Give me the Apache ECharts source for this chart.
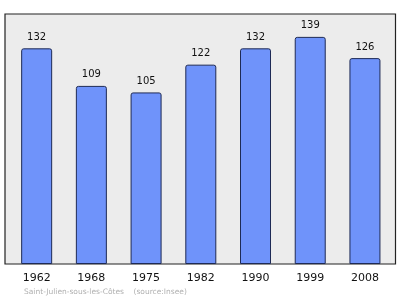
<!DOCTYPE html>
<html><head><meta charset="utf-8">
<script src="https://cdn.jsdelivr.net/npm/echarts@6/dist/echarts.min.js"></script>
<style>html,body{margin:0;padding:0;background:#fff}#c{width:400px;height:299px}</style>
</head><body><div id="c"></div>
<script>
const categories = ['1962','1968','1975','1982','1990','1999','2008'];
const population = [132,109,105,122,132,139,126];
const caption = 'Saint-Julien-sous-les-Côtes    (source:Insee)';

const chart = echarts.init(document.getElementById('c'), null, {renderer:'canvas'});
chart.setOption({
  animation:false,
  backgroundColor:'#ffffff',
  graphic:[
    {type:'rect', z:-10, shape:{x:5,y:14,width:390.5,height:250}, style:{fill:'#ececec', stroke:'#222', lineWidth:1.2}},
    {type:'text', left:24, top:288, style:{text:caption, fill:'#b0b0b0', font:'7.5px "DejaVu Sans"'}}
  ],
  grid:{left:9.3, right:7.7, top:14, bottom:35},
  xAxis:{type:'category', data:categories,
    axisLine:{show:false}, axisTick:{show:false},
    axisLabel:{color:'#111', fontSize:11, fontFamily:'DejaVu Sans', margin:9}},
  yAxis:{type:'value', min:0, max:153, show:false, splitLine:{show:false}},
  series:[{type:'bar', data:population, barWidth:31,
    itemStyle:{color:'#6f93fa', borderColor:'#1e2a55', borderWidth:1, borderRadius:[2,2,0,0]},
    label:{show:true, position:'top', distance:6, color:'#111', fontSize:10, fontFamily:'DejaVu Sans'}}]
});
</script></body></html>
